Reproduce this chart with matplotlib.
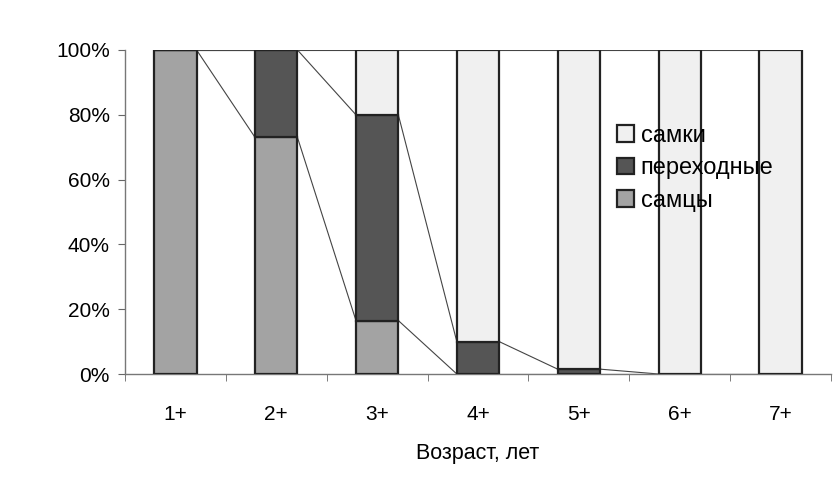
import matplotlib
matplotlib.use("Agg")
import matplotlib.pyplot as plt
import numpy as np

plt.rcParams['font.family'] = ['Liberation Sans', 'DejaVu Sans']

categories = ["1+", "2+", "3+", "4+", "5+", "6+", "7+"]
males = [100, 73, 16.5, 0, 0, 0, 0]
transitional = [0, 27, 63.5, 10, 1.5, 0, 0]
females = [0, 0, 20, 90, 98.5, 100, 100]
series_names = ["самцы", "переходные", "самки"]
colors = ["#a3a3a3", "#555555", "#f0f0f0"]

fig = plt.figure(figsize=(8.36, 4.9), dpi=100)
ax = fig.add_axes([125/836, 116/490, 706/836, 324/490])

x = np.arange(len(categories))
w = 0.42
data = [np.array(males), np.array(transitional), np.array(females)]
bottom = np.zeros(len(categories))
handles = []
for vals, name, col in zip(data, series_names, colors):
    b = ax.bar(x, vals, w, bottom=bottom, color=col, edgecolor="#222222",
               linewidth=1.6, label=name, zorder=3)
    handles.append(b)
    top = bottom + vals
    # series lines between adjacent bars
    for i in range(len(categories) - 1):
        ax.plot([x[i] + w/2, x[i+1] - w/2], [top[i], top[i+1]],
                color="#444444", lw=0.8, zorder=2)
    bottom = top

ax.set_xlim(-0.5, len(categories) - 0.5)
ax.set_ylim(0, 100)
ax.set_yticks([0, 20, 40, 60, 80, 100])
ax.set_yticklabels([f"{v}%" for v in [0, 20, 40, 60, 80, 100]], fontsize=15)
ax.set_xticks(x)
ax.set_xticklabels(categories, fontsize=15)
ax.set_xticks(np.arange(-0.5, len(categories)), minor=True)
ax.tick_params(axis='x', which='major', length=0, pad=22)
ax.tick_params(axis='x', which='minor', length=5, color="#666666")
ax.tick_params(axis='y', length=5, color="#666666", pad=6)
for s in ["top", "right"]:
    ax.spines[s].set_visible(False)
for s in ["left", "bottom"]:
    ax.spines[s].set_color("#777777")
    ax.spines[s].set_linewidth(1.0)
ax.set_xlabel("Возраст, лет", fontsize=15.5, labelpad=14)

leg = ax.legend(handles[::-1], series_names[::-1], loc="upper left",
                bbox_to_anchor=(0.697, 0.77), frameon=False, fontsize=17,
                handlelength=0.7, handleheight=0.7, handletextpad=0.3,
                labelspacing=0.45, borderaxespad=0, borderpad=0)

fig.savefig("out.png", dpi=100)
